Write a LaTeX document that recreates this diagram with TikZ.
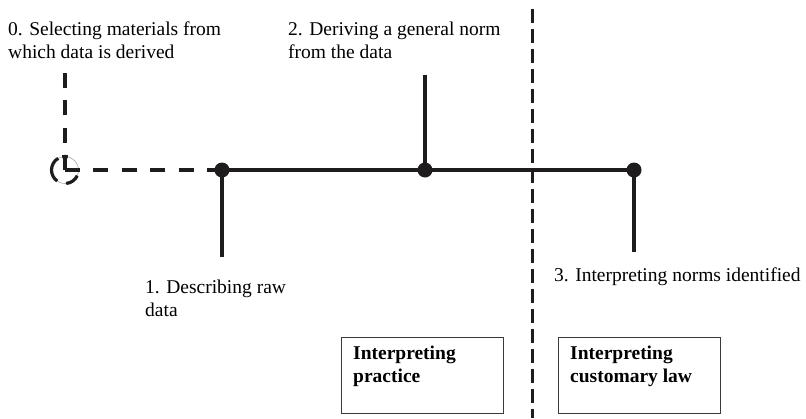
\documentclass[tikz,border=0pt]{standalone}
\usepackage{fontspec}
\setmainfont{Liberation Serif}
\definecolor{inkc}{HTML}{1E1C1D}
\definecolor{boxc}{HTML}{3A3A3A}
\begin{document}
\begin{tikzpicture}[x=1pt,y=-1pt,
  ink/.style={draw=inkc, line width=3.2pt},
  dashink/.style={draw=inkc, line width=3.2pt, dash pattern=on 15pt off 12.33pt},
  divider/.style={draw=inkc, line width=3pt, dash pattern=on 14pt off 6pt},
  dot/.style={circle, fill=inkc, inner sep=0pt, minimum size=15pt},
  lbl/.style={anchor=base west, inner sep=0pt, align=left, font=\fontsize{19.5}{22.5}\selectfont},
  boxlbl/.style={lbl, font=\fontsize{19.5}{23}\selectfont\bfseries},
  framebox/.style={draw=boxc, line width=1.4pt, minimum width=162pt, minimum height=76pt, anchor=north west, inner sep=0pt},
  ring/.style={circle, draw=gray!70, line width=0.6pt, minimum size=27pt, inner sep=0pt}
]
\useasboundingbox (0,0) rectangle (806,418);

% vertical divider between the two kinds of interpretation
\coordinate (divtop) at (532,9);
\coordinate (divbot) at (532,418);
\draw[divider] (divtop) -- (divbot);

% starting point: selecting materials
\node[ring] (c0) at (65,170) {};
\draw[ink] ([shift={(-120:13.5)}]c0.center) arc[start angle=-120, end angle=-235, radius=13.5];
\draw[ink] ([shift={(-275:13.5)}]c0.center) arc[start angle=-275, end angle=-335, radius=13.5];
\draw[ink] ([shift={(-78:13.5)}]c0.center) arc[start angle=-78, end angle=-102, radius=13.5];
\coordinate (c0top) at (65,73);
\draw[dashink] (c0.center) -- (c0top);

% the three steps on the main line
\node[dot] (d1) at (222,170) {};
\node[dot] (d2) at (425,170) {};
\node[dot] (d3) at (634,170) {};
\draw[dashink, dash pattern=on 15pt off 13.4pt] (c0.center) -- (d1.center);
\draw[ink] (d1.center) -- (d3.center);

\coordinate (d1end) at (222,257);
\coordinate (d2end) at (425,75);
\coordinate (d3end) at (634,252);
\draw[ink] (d1.center) -- (d1end);
\draw[ink] (d2.center) -- (d2end);
\draw[ink] (d3.center) -- (d3end);

% step labels (base anchor sits on the last line)
\node[lbl] (t0) at (8,58) {0. Selecting materials from\\which data is derived};
\node[lbl] (t2) at (288,58) {2. Deriving a general norm\\from the data};
\node[lbl] (t1) at (145,316) {1. Describing raw\\data};
\node[lbl] (t3) at (554,281) {3. Interpreting norms identified};

% the two fields of interpretation
\node[framebox] (bp) at (341,337) {};
\node[framebox] (bc) at (558,337) {};
\node[boxlbl] (bpt) at (353,382) {Interpreting\\practice};
\node[boxlbl] (bct) at (570,382) {Interpreting\\customary law};
\end{tikzpicture}
\end{document}
